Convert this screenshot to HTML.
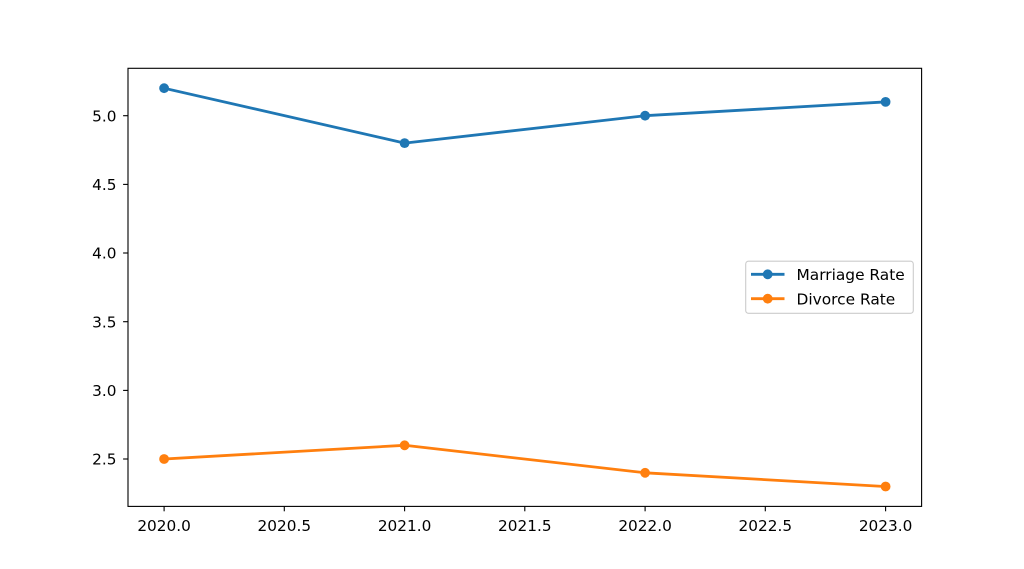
<!DOCTYPE html>
<html><head><meta charset="utf-8"><style>
html,body{margin:0;padding:0;background:#fff;}
svg{display:block;font-family:"DejaVu Sans","Liberation Sans",sans-serif;}
</style></head><body>
<svg width="1024" height="569" viewBox="0 0 1024 569" xmlns="http://www.w3.org/2000/svg">
<rect width="1024" height="569" fill="#fff"/>
<g stroke="#000" stroke-width="1.11">
<line x1="164.1" y1="506.4" x2="164.1" y2="511.3"/>
<line x1="284.3" y1="506.4" x2="284.3" y2="511.3"/>
<line x1="404.6" y1="506.4" x2="404.6" y2="511.3"/>
<line x1="524.8" y1="506.4" x2="524.8" y2="511.3"/>
<line x1="645.1" y1="506.4" x2="645.1" y2="511.3"/>
<line x1="765.3" y1="506.4" x2="765.3" y2="511.3"/>
<line x1="885.6" y1="506.4" x2="885.6" y2="511.3"/>
<line x1="123.1" y1="459.0" x2="128" y2="459.0"/>
<line x1="123.1" y1="390.4" x2="128" y2="390.4"/>
<line x1="123.1" y1="321.7" x2="128" y2="321.7"/>
<line x1="123.1" y1="253.0" x2="128" y2="253.0"/>
<line x1="123.1" y1="184.4" x2="128" y2="184.4"/>
<line x1="123.1" y1="115.7" x2="128" y2="115.7"/>
</g>
<g font-size="15.3" fill="#000" text-anchor="middle">
<text x="164.1" y="531">2020.0</text>
<text x="284.3" y="531">2020.5</text>
<text x="404.6" y="531">2021.0</text>
<text x="524.8" y="531">2021.5</text>
<text x="645.1" y="531">2022.0</text>
<text x="765.3" y="531">2022.5</text>
<text x="885.6" y="531">2023.0</text>
</g>
<g font-size="15.3" fill="#000" text-anchor="end">
<text x="116.5" y="464.6">2.5</text>
<text x="116.5" y="396.0">3.0</text>
<text x="116.5" y="327.3">3.5</text>
<text x="116.5" y="258.6">4.0</text>
<text x="116.5" y="190.0">4.5</text>
<text x="116.5" y="121.3">5.0</text>
</g>
<polyline points="164.1,88.2 404.6,143.1 645.1,115.7 885.6,101.9" fill="none" stroke="#1f77b4" stroke-width="2.78" stroke-linejoin="round" stroke-linecap="square"/>
<g fill="#1f77b4"><circle cx="164.1" cy="88.2" r="4.9"/><circle cx="404.6" cy="143.1" r="4.9"/><circle cx="645.1" cy="115.7" r="4.9"/><circle cx="885.6" cy="101.9" r="4.9"/></g>
<polyline points="164.1,459.0 404.6,445.3 645.1,472.8 885.6,486.5" fill="none" stroke="#ff7f0e" stroke-width="2.78" stroke-linejoin="round" stroke-linecap="square"/>
<g fill="#ff7f0e"><circle cx="164.1" cy="459.0" r="4.9"/><circle cx="404.6" cy="445.3" r="4.9"/><circle cx="645.1" cy="472.8" r="4.9"/><circle cx="885.6" cy="486.5" r="4.9"/></g>
<rect x="128" y="68.3" width="793.6" height="438.1" fill="none" stroke="#000" stroke-width="1.11"/>
<rect x="745.7" y="261.2" width="167.6" height="52.1" rx="2.8" fill="#fff" fill-opacity="0.8" stroke="#cccccc" stroke-width="1.11"/>
<line x1="751" y1="274.3" x2="784.5" y2="274.3" stroke="#1f77b4" stroke-width="2.78"/>
<circle cx="767.7" cy="274.3" r="4.9" fill="#1f77b4"/>
<line x1="751" y1="298.7" x2="784.5" y2="298.7" stroke="#ff7f0e" stroke-width="2.78"/>
<circle cx="767.7" cy="298.7" r="4.9" fill="#ff7f0e"/>
<g font-size="15.4" fill="#000">
<text x="796.5" y="280.2">Marriage Rate</text>
<text x="796.5" y="304.5">Divorce Rate</text>
</g>
</svg>
</body></html>
